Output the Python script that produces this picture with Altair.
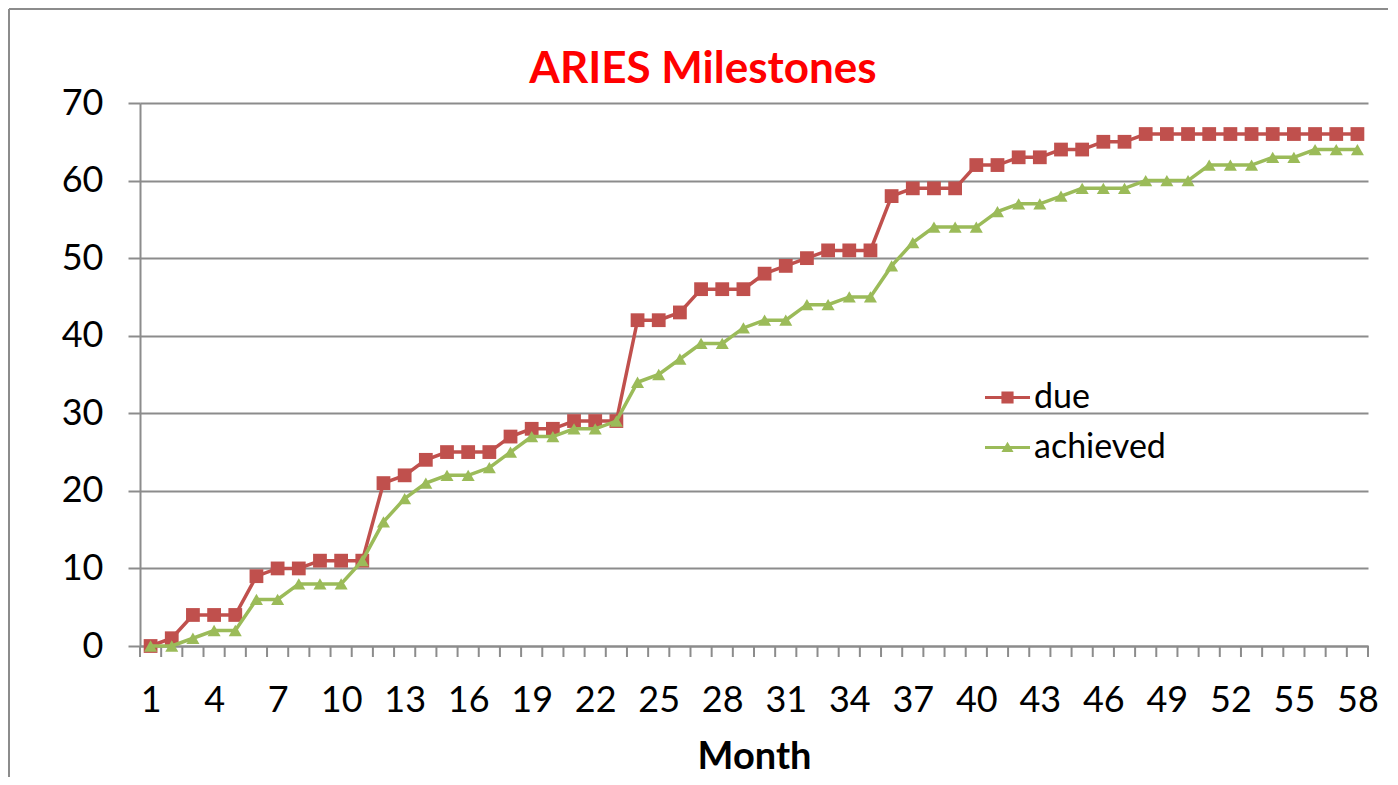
import altair as alt
import pandas as pd

# ---- data ----
months = [1, 2, 3, 4, 5, 6, 7, 8, 9, 10, 11, 12, 13, 14, 15, 16, 17, 18, 19, 20,
          21, 22, 23, 24, 25, 26, 27, 28, 29, 30, 31, 32, 33, 34, 35, 36, 37, 38, 39, 40,
          41, 42, 43, 44, 45, 46, 47, 48, 49, 50, 51, 52, 53, 54, 55, 56, 57, 58]
due = [0, 1, 4, 4, 4, 9, 10, 10, 11, 11, 11, 21, 22, 24, 25, 25, 25, 27, 28, 28,
       29, 29, 29, 42, 42, 43, 46, 46, 46, 48, 49, 50, 51, 51, 51, 58, 59, 59, 59, 62,
       62, 63, 63, 64, 64, 65, 65, 66, 66, 66, 66, 66, 66, 66, 66, 66, 66, 66]
achieved = [0, 0, 1, 2, 2, 6, 6, 8, 8, 8, 11, 16, 19, 21, 22, 22, 23, 25, 27, 27,
            28, 28, 29, 34, 35, 37, 39, 39, 41, 42, 42, 44, 44, 45, 45, 49, 52, 54, 54, 54,
            56, 57, 57, 58, 59, 59, 59, 60, 60, 60, 62, 62, 62, 63, 63, 64, 64, 64]
series_names = ["due", "achieved"]
title_text = ["ARIES Milestones"]
x_tick_labels = [1, 4, 7, 10, 13, 16, 19, 22, 25, 28, 31, 34, 37, 40, 43, 46, 49, 52, 55, 58]
y_ticks = [0, 10, 20, 30, 40, 50, 60, 70]

# ---- styling ----
colors = ["#C0504D", "#9BBB59"]
GRAY = "#8C8C8C"
FONT = "Lato"
W, H = 1228, 543

df = pd.DataFrame({
    "month": months + months,
    "value": due + achieved,
    "series": ["due"] * len(months) + ["achieved"] * len(months),
})
bounds = pd.DataFrame({"b": [m - 0.5 for m in months] + [months[-1] + 0.5]})
one = pd.DataFrame({"t": title_text})

xscale = alt.Scale(domain=[months[0] - 0.5, months[-1] + 0.5], nice=False, zero=False)
yscale = alt.Scale(domain=[0, 70], nice=False)
cscale = alt.Scale(domain=series_names, range=colors)

x_axis = alt.Axis(values=x_tick_labels, title="Month", ticks=False, grid=False,
                  labelFont=FONT, labelFontSize=36, labelColor="black", labelPadding=37,
                  titleFont=FONT, titleFontSize=38, titleFontWeight="bold",
                  titleColor="black", titlePadding=20, domainColor=GRAY, domainWidth=2)
y_axis = alt.Axis(values=y_ticks, title=None, grid=True, gridColor=GRAY, gridWidth=2,
                  tickSize=12, tickColor=GRAY, tickWidth=2, domainColor=GRAY, domainWidth=2,
                  labelFont=FONT, labelFontSize=36, labelColor="black", labelPadding=25,
                  minExtent=132, maxExtent=132)

# only one layer defines the axes; the others just share the scales
X = alt.X("month:Q", scale=xscale, axis=x_axis)
Y = alt.Y("value:Q", scale=yscale, axis=y_axis)
Xs = alt.X("month:Q", scale=xscale)
Ys = alt.Y("value:Q", scale=yscale)

base = alt.Chart(df)

# outer frame (top and left edges of the chart box)
frame_top = alt.Chart(one).mark_rule(color=GRAY, strokeWidth=2).encode(
    x=alt.value(-131), x2=alt.value(W + 20), y=alt.value(-94))
frame_left = alt.Chart(one).mark_rule(color=GRAY, strokeWidth=2).encode(
    x=alt.value(-131), y=alt.value(-94), y2=alt.value(H + 131))

# chart title as text
title = alt.Chart(one).mark_text(font=FONT, fontSize=44, fontWeight="bold", color="#FF0000",
                                 align="center", baseline="alphabetic").encode(
    x=alt.value(563), y=alt.value(-20), text="t:N")

# category boundary ticks on the x axis
ticks = alt.Chart(bounds).mark_rule(color=GRAY, strokeWidth=2).encode(
    x=alt.X("b:Q", scale=xscale), y=alt.value(H), y2=alt.value(H + 11))

axes_layer = base.mark_point(opacity=0, size=1).encode(x=X, y=Y)

layers = [frame_top, frame_left, title, axes_layer, ticks]
shapes = {"due": ("square", 190), "achieved": ("triangle-up", 170)}
for s, col in zip(series_names, colors):
    sub = base.transform_filter(alt.datum.series == s)
    layers.append(sub.mark_line(strokeWidth=3.5, color=col).encode(x=Xs, y=Ys))
    shp, sz = shapes[s]
    layers.append(sub.mark_point(shape=shp, size=sz, filled=True, opacity=1, color=col)
                  .encode(x=Xs, y=Ys))

# legend: line + marker symbols
sq_path = "M-1,-0.07H1V0.07H-1Z M-0.27,-0.27H0.27V0.27H-0.27Z"
tri_path = "M-1,-0.07H1V0.07H-1Z M-0.27,0.2L0,-0.26L0.27,0.2Z"
leg = alt.Legend(orient="none", legendX=845, legendY=272, title=None, labelFont=FONT,
                 labelFontSize=34, labelColor="black", symbolSize=2025, symbolStrokeWidth=0,
                 rowPadding=10, labelOffset=4, padding=0)
legend_layer = base.transform_filter("datum.month < 0").mark_point(filled=True, opacity=1).encode(
    x=Xs, y=Ys,
    color=alt.Color("series:N", scale=cscale, legend=leg),
    shape=alt.Shape("series:N", scale=alt.Scale(domain=series_names, range=[sq_path, tri_path]),
                    legend=leg))
layers.append(legend_layer)

chart = alt.layer(*layers).properties(
    width=W, height=H, padding=0,
).configure_view(strokeWidth=0)

chart.save("out.html", embed_options={"renderer": "svg", "actions": False})
